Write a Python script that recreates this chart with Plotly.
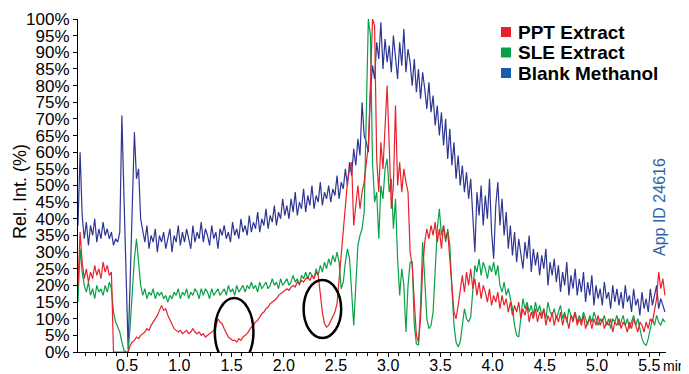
import numpy as np
import plotly.graph_objects as go

# sampling grid of the chromatogram (min)
t_start = 0.03
t_step = 0.02

# Blank Methanol (%)
blank_methanol = [
    38, 60, 41, 34, 39, 32, 38, 35, 40, 33,
    37, 34, 39, 35, 37, 34, 36, 32, 34, 33,
    36, 71, 47, 23, 1, 22, 45, 66, 52, 55,
    40, 36, 33, 38, 31, 35, 33, 37, 30, 35,
    33, 36, 31, 34, 37, 30, 35, 33, 38, 32,
    36, 33, 37, 34, 31, 38, 33, 36, 34, 39,
    33, 37, 35, 32, 38, 34, 36, 31, 37, 35,
    38, 34, 36, 33, 39, 35, 37, 34, 40, 36,
    38, 35, 41, 36, 39, 37, 42, 36, 40, 38,
    43, 37, 41, 39, 44, 38, 42, 40, 46, 41,
    44, 40, 46, 42, 48, 41, 45, 43, 49, 42,
    47, 44, 50, 43, 47, 45, 51, 44, 48, 46,
    50, 45, 49, 47, 53, 46, 51, 49, 55, 50,
    57, 53, 61, 56, 64, 59, 75, 65, 63, 60,
    78, 86, 82, 93, 88, 99, 85, 94, 87, 92,
    84, 95, 88, 82, 93, 86, 97, 84, 91, 87,
    80, 88, 78, 85, 76, 84, 79, 73, 81, 72,
    77, 68, 74, 65, 72, 62, 70, 58, 67, 56,
    63, 52, 59, 50, 56, 48, 54, 46, 52, 42,
    30, 48, 41, 50, 38, 47, 40, 52, 36, 28,
    44, 51, 38, 46, 35, 42, 31, 38, 29, 36,
    27, 34, 30, 25, 33, 28, 35, 24, 31, 26,
    30, 23, 29, 25, 31, 20, 27, 23, 28, 21,
    26, 18, 24, 20, 27, 17, 23, 19, 25, 17,
    22, 18, 24, 15, 21, 17, 23, 14, 20, 16,
    19, 14, 21, 16, 18, 13, 20, 15, 19, 14,
    18, 13, 20, 15, 17, 12, 19, 14, 16, 11,
    18, 13, 16, 12, 19, 14, 17, 20, 13, 16,
    14, 12,
]

# PPT Extract (%)
ppt_extract = [
    20, 36, 27, 22, 25, 21, 24, 22, 26, 23,
    25, 22, 27, 24, 26, 23, 24, 0, 0, 0,
    0, 0, 0, 0, 0, 2, 3, 3.5, 4.5, 4,
    5, 5.5, 6, 7, 6.5, 8, 9, 10, 11, 12.5,
    14, 12.5, 13, 11, 9.5, 8, 7, 6.5, 6, 6.5,
    5.5, 6, 6.5, 5.5, 6, 7, 6, 5.5, 6, 5,
    5.5, 4.5, 5, 5.5, 6, 6.5, 7.5, 10, 9, 8.5,
    7, 5.5, 4.5, 4, 3.5, 3.5, 3, 4, 3.5, 4.5,
    5, 5.5, 6.5, 7.5, 8, 9, 9.5, 10.5, 11.5, 12,
    13, 13.5, 14.5, 15, 15.5, 16, 17, 17.5, 18, 18.5,
    19, 18.5, 19.5, 20, 19.5, 21, 20.5, 21.5, 21, 22,
    22.5, 21.5, 23, 22, 24, 23, 17, 12, 8.5, 7.5,
    8, 9.5, 10.5, 12, 14.5, 22, 30, 36, 44, 51,
    55, 57, 38, 45, 50, 43, 48, 51, 57, 62,
    80, 100, 98, 58, 48, 63, 55, 70, 80, 62,
    43, 50, 74, 50, 57, 48, 55, 51, 48, 30,
    26, 15, 5, 3, 10, 25, 33, 37, 34, 38,
    35, 39, 33, 37, 31, 38, 34, 36, 29, 20,
    12, 10, 14, 19, 23, 18, 24, 20, 25, 19,
    22, 17, 21, 16, 20, 18, 15, 19, 14, 17,
    15, 18, 13, 17, 14, 16, 12, 15, 11, 14,
    12, 15, 10, 13, 11, 14, 9, 12, 10, 13,
    9, 12, 10, 13, 8, 11, 9, 12, 8, 11,
    9, 12, 8, 11, 10, 7, 11, 9, 12, 8,
    10, 8, 11, 7, 9, 10, 7, 10, 8, 11,
    8, 10, 7, 9, 8, 10, 6, 9, 8, 10,
    7, 9, 8, 6, 9, 7, 10, 8, 6, 9,
    8, 6, 9, 7, 10, 9, 12, 16, 24, 19,
    22, 17,
]

# SLE Extract (%)
sle_extract = [
    15, 31, 24, 20, 18, 21, 17, 19, 16, 20,
    18, 19, 17, 20, 18, 21, 19, 12, 9, 7.5,
    6, 3, 0.5, 0, 0, 8, 18, 28, 34, 26,
    20, 17, 19, 16, 18, 17, 19, 16, 18, 17,
    18, 16, 17, 15, 17, 16, 18, 17, 19, 16,
    18, 17, 19, 16, 18, 17, 19, 18, 16, 19,
    17, 19, 18, 16, 19, 17, 18, 19, 17, 18,
    19, 17, 20, 18, 19, 17, 20, 18, 19, 20,
    18, 20, 19, 21, 19, 20, 18, 21, 19, 20,
    21, 19, 20, 22, 20, 21, 19, 22, 20, 21,
    22, 20, 21, 23, 21, 22, 20, 23, 22, 24,
    22, 24, 23, 22, 25, 23, 26, 24, 27, 25,
    28, 26, 29, 27, 30, 27, 19, 21, 27, 31,
    28, 16, 8, 20, 32, 35, 37, 42, 70, 100,
    95, 57, 45, 48, 34, 50, 46, 55, 58, 48,
    52, 37, 46, 28, 17, 25, 20, 6, 20, 27,
    27, 8, 2.5, 2, 14, 33, 22, 10, 7, 8,
    12, 25, 37, 43, 35, 38, 33, 37, 32, 19,
    8, 3, 1.5, 3, 9, 13, 10, 9, 10.5, 18,
    26, 24, 28, 23, 27, 25, 22, 26, 24, 27,
    23, 26, 20, 18, 21, 17, 19, 16, 13, 8,
    5, 4.5, 10, 16, 13, 15, 12, 14, 11, 15,
    12, 14, 11, 13, 10, 15, 12, 11, 13, 10,
    12, 14, 10, 12, 9, 13, 11, 10, 12, 9,
    11, 9, 12, 10, 8, 11, 9, 12, 10, 8,
    10, 9, 11, 8, 10, 7, 10, 9, 11, 8,
    9, 11, 8, 10, 7, 9, 11, 8, 10, 7,
    4, 2.5, 2, 4, 7, 10, 8, 11, 9, 8,
    10, 9,
]

series_names = ["PPT Extract", "SLE Extract", "Blank Methanol"]
x_tick_vals = [0.5, 1.0, 1.5, 2.0, 2.5, 3.0, 3.5, 4.0, 4.5, 5.0, 5.5]
x_tick_text = ["0.5", "1.0", "1.5", "2.0", "2.5", "3.0", "3.5", "4.0", "4.5", "5.0", "5.5"]
y_tick_vals = list(range(0, 101, 5))
y_tick_text = [f"{v}%" for v in y_tick_vals]

# circled regions (time range, % range)
circles = [(1.34, 1.71, -4.2, 16.2), (2.19, 2.55, 4.2, 21.6)]

RED = "#E8222B"
GREEN = "#0AA04A"
BLUE_LINE = "#2E3593"
BLUE_KEY = "#175EAA"
FONT = "Liberation Sans, Arial, sans-serif"

def times(vals):
    return np.round(t_start + t_step * np.arange(len(vals)), 4)

fig = go.Figure()
fig.add_trace(go.Scatter(x=times(blank_methanol), y=blank_methanol, mode="lines",
                         line=dict(color=BLUE_LINE, width=1.2), name=series_names[2]))
fig.add_trace(go.Scatter(x=times(sle_extract), y=sle_extract, mode="lines",
                         line=dict(color=GREEN, width=1.2), name=series_names[1]))
fig.add_trace(go.Scatter(x=times(ppt_extract), y=ppt_extract, mode="lines",
                         line=dict(color=RED, width=1.2), name=series_names[0]))

# page body has an 8px margin: the figure is placed at (8, 8) in the window
OFF = 8
W, H = 689 - OFF, 374 - OFF
L, T = 78 - OFF, 19 - OFF
R = W - (666 - OFF)
B = H - (352 - OFF)
pw, ph = W - L - R, H - T - B

def px_x(p):
    return (p - OFF - L) / pw

def px_y(p):
    return (H - B - (p - OFF)) / ph

fig.update_layout(
    width=W, height=H,
    margin=dict(l=L, r=R, t=T, b=B, autoexpand=False),
    paper_bgcolor="white", plot_bgcolor="white",
    showlegend=False,
    font=dict(family=FONT, size=16, color="black"),
)
fig.update_xaxes(
    range=[0.03, 5.66], showgrid=False, zeroline=False, automargin=False,
    showline=True, linecolor="black", linewidth=1,
    tickmode="array", tickvals=x_tick_vals, ticktext=x_tick_text,
    ticks="outside", ticklen=4, tickcolor="black", tickwidth=1,
    ticklabelstandoff=-5,
    tickfont=dict(size=16, family=FONT),
    minor=dict(dtick=0.1, tick0=0, ticks="outside", ticklen=3, tickcolor="black"),
)
fig.update_yaxes(
    range=[0, 100], showgrid=False, zeroline=False, automargin=False,
    showline=True, linecolor="black", linewidth=1,
    tickmode="array", tickvals=y_tick_vals, ticktext=y_tick_text,
    ticks="outside", ticklen=4, tickcolor="black", tickwidth=1,
    tickfont=dict(size=17, family=FONT),
)

# y-axis title
fig.add_annotation(text="Rel. Int. (%)", xref="paper", yref="paper",
                   x=px_x(20), y=px_y(192), textangle=-90, showarrow=False,
                   font=dict(size=18, family=FONT, color="black"),
                   xanchor="center", yanchor="middle")
# "min" unit label
fig.add_annotation(text="min", xref="paper", yref="paper",
                   x=px_x(687), y=px_y(366), showarrow=False,
                   font=dict(size=14, family=FONT, color="black"),
                   xanchor="right", yanchor="middle", borderpad=0)
# App ID
fig.add_annotation(text="App ID 24616", xref="paper", yref="paper",
                   x=px_x(660), y=px_y(207), textangle=-90, showarrow=False,
                   font=dict(size=16, family=FONT, color="#2D64A6"),
                   xanchor="center", yanchor="middle")

# legend
key_colors = [RED, GREEN, BLUE_KEY]
key_centers = [32, 52.5, 73]
for name, col, cy in zip(series_names, key_colors, key_centers):
    fig.add_shape(type="rect", xref="paper", yref="paper",
                  x0=px_x(501), x1=px_x(511), y0=px_y(cy + 5), y1=px_y(cy - 5),
                  fillcolor=col, line=dict(width=0))
    fig.add_annotation(text=f"<b>{name}</b>", xref="paper", yref="paper",
                       x=px_x(516), y=px_y(cy), showarrow=False,
                       font=dict(size=19, family=FONT, color="black"),
                       xanchor="left", yanchor="middle")

for x0, x1, y0, y1 in circles:
    fig.add_shape(type="circle", xref="x", yref="y", x0=x0, x1=x1, y0=y0, y1=y1,
                  line=dict(color="black", width=2.5), layer="above")

fig.write_html("out.html")
